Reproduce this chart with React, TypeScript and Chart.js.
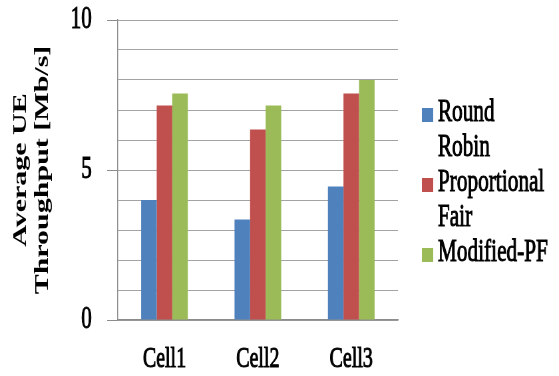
import React, { useEffect, useRef } from "react";
import { Chart, registerables } from "chart.js";

Chart.register(...registerables);

// Cells and per-scheduler average UE throughput (Mb/s)
const cells = ["Cell1", "Cell2", "Cell3"];
const roundRobin = [4.0, 3.35, 4.45];
const proportionalFair = [7.15, 6.35, 7.55];
const modifiedPF = [7.55, 7.15, 8.0];

// Legend entries, already split into the lines they wrap to
const seriesLines = [["Round", "Robin"], ["Proportional", "Fair"], ["Modified-PF"]];
const seriesColors = ["#4F81BD", "#C0504D", "#9BBB59"];
const seriesValues = [roundRobin, proportionalFair, modifiedPF];

const yTitle = ["Average UE", "Throughput [Mb/s]"];
const yMin = 0;
const yMax = 10;
const yStep = 1;
const yLabelEvery = 5;

const FONT = '"Liberation Serif", "Times New Roman", serif';
const GRID = "#a3a3a3";
const AXIS = "#8c8c8c";

// Drawing buffer is wider than the displayed box, so the whole chart
// (text included) comes out horizontally condensed.
const BUF_W = 840;
const BUF_H = 376;
const VIEW_W = 559;
const VIEW_H = 376;

// Fixed axis band sizes
const Y_AXIS_WIDTH = 177;
const X_AXIS_HEIGHT = 56;

// y-axis tick: a visible mark next to the axis, then a gap before the label
const TICK_MARK = 16;
const TICK_GAP = 23;

const wrappedLegend = {
  id: "wrappedLegend",
  afterDraw(chart: any) {
    const { ctx, chartArea, data } = chart;
    const lineH = 35;
    const lines = data.datasets.reduce((n: number, d: any) => n + d.legendLines.length, 0);
    const cy = (chartArea.top + chartArea.bottom) / 2 + 13;
    let y = cy - ((lines - 1) * lineH) / 2;
    const boxX = chartArea.right + 36;
    const textX = chartArea.right + 60;
    ctx.save();
    ctx.font = `32px ${FONT}`;
    ctx.textBaseline = "middle";
    ctx.textAlign = "left";
    ctx.lineWidth = 1;
    ctx.strokeStyle = "#000";
    data.datasets.forEach((d: any) => {
      ctx.fillStyle = d.backgroundColor;
      ctx.fillRect(boxX, y - 5, 17, 14);
      ctx.fillStyle = "#000";
      d.legendLines.forEach((t: string) => {
        ctx.strokeText(t, textX, y);
        ctx.fillText(t, textX, y);
        y += lineH;
      });
    });
    ctx.restore();
  },
};

export default function App() {
  const ref = useRef<HTMLCanvasElement | null>(null);

  useEffect(() => {
    if (!ref.current) return;
    const chart = new Chart(ref.current, {
      type: "bar",
      data: {
        labels: cells,
        datasets: seriesValues.map((vals, i) => ({
          label: seriesLines[i].join(" "),
          legendLines: seriesLines[i],
          data: vals,
          backgroundColor: seriesColors[i],
          borderWidth: 0,
          categoryPercentage: 0.5,
          barPercentage: 1.0,
        })) as any,
      },
      options: {
        responsive: false,
        animation: false,
        devicePixelRatio: 1,
        layout: { padding: { top: 20, right: 242, bottom: 0, left: 0 } },
        plugins: {
          legend: { display: false },
          tooltip: { enabled: false },
        },
        scales: {
          x: {
            afterFit: (scale: any) => {
              scale.height = X_AXIS_HEIGHT;
            },
            grid: { display: false, drawTicks: false },
            border: { display: true, color: AXIS, width: 1.5 },
            ticks: {
              color: "#000",
              padding: 23,
              textStrokeColor: "#000",
              textStrokeWidth: 1,
              font: { family: FONT, size: 30, lineHeight: 1.05 },
            },
          },
          y: {
            min: yMin,
            max: yMax,
            afterFit: (scale: any) => {
              scale.width = Y_AXIS_WIDTH;
            },
            grid: {
              color: GRID,
              lineWidth: 1,
              tickLength: TICK_MARK + TICK_GAP,
              tickBorderDash: [0, TICK_GAP, TICK_MARK, 200],
              tickColor: (c: any) =>
                c.tick && c.tick.value % yLabelEvery === 0 ? AXIS : "rgba(0,0,0,0)",
              tickWidth: 1,
            },
            border: { display: true, color: AXIS, width: 1.5 },
            ticks: {
              stepSize: yStep,
              autoSkip: false,
              color: "#000",
              padding: 0,
              textStrokeColor: "#000",
              textStrokeWidth: 1,
              font: { family: FONT, size: 32, lineHeight: 0.2 },
              callback: (v: any) => (Number(v) % yLabelEvery === 0 ? String(v) : ""),
            },
            title: {
              display: true,
              text: yTitle,
              color: "#000",
              padding: { top: 15, bottom: 0 },
              font: { family: FONT, size: 30, weight: "bold", lineHeight: 1.1 },
            },
          },
        },
      },
      plugins: [wrappedLegend],
    });
    return () => chart.destroy();
  }, []);

  return (
    <canvas
      ref={ref}
      width={BUF_W}
      height={BUF_H}
      style={{
        position: "fixed",
        left: 0,
        top: 0,
        width: `${VIEW_W}px`,
        height: `${VIEW_H}px`,
        display: "block",
        background: "#fff",
      }}
    />
  );
}
